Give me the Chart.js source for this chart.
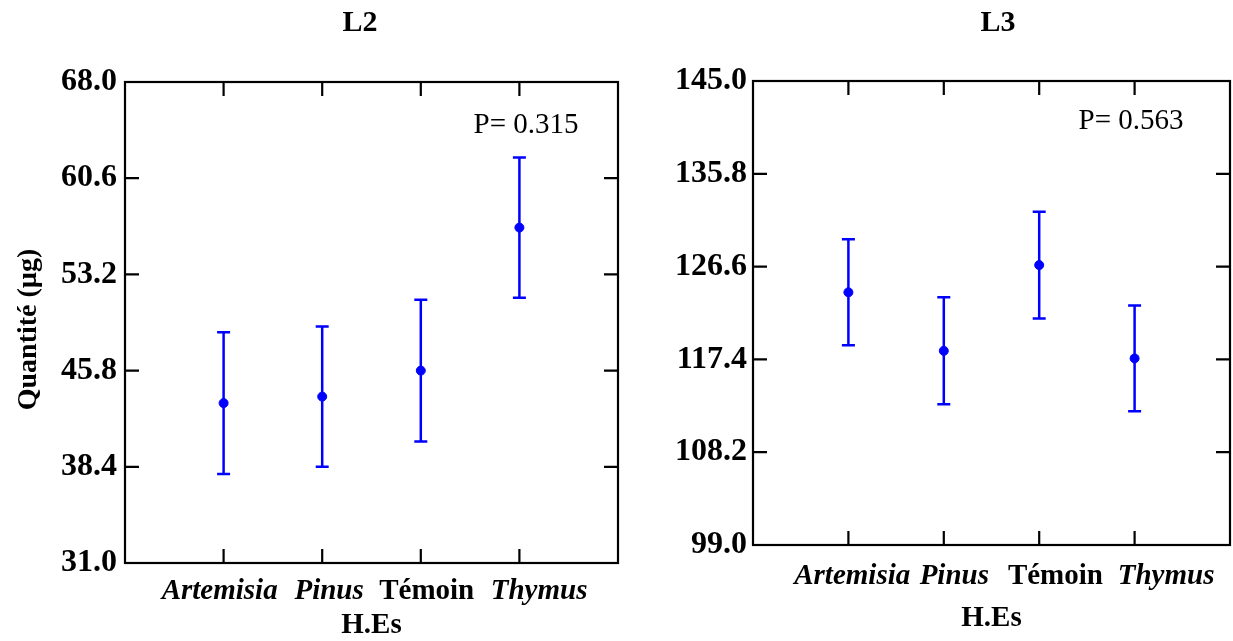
<!DOCTYPE html>
<html lang="fr">
<head>
  <meta charset="UTF-8" />
  <title>L2 / L3</title>
  <script src="https://cdn.jsdelivr.net/npm/chart.js"></script>
  <style>
    body { margin: 0; background: #fff; overflow: hidden; }
    .wrap { position: relative; width: 1233px; height: 641px; overflow: hidden; }
    canvas { position: absolute; top: 0; }
    #chartL2 { left: 0; }
    #chartL3 { left: 640px; }
  </style>
</head>
<body>
  <div class="wrap">
    <canvas id="chartL2" width="640" height="641"></canvas>
    <canvas id="chartL3" width="600" height="641"></canvas>
  </div>

  <script>
    const categories = ['Artemisia', 'Pinus', 'Témoin', 'Thymus'];
    const italicCats = [true, true, false, true];

    const l2Means = [43.3, 43.8, 45.8, 56.8];
    const l2Err = [5.45, 5.4, 5.45, 5.4];
    const l2Ticks = [31.0, 38.4, 45.8, 53.2, 60.6, 68.0];

    const l3Means = [124.05, 118.25, 126.75, 117.5];
    const l3Err = [5.25, 5.3, 5.3, 5.25];
    const l3Ticks = [99.0, 108.2, 117.4, 126.6, 135.8, 145.0];

    const serif = "'Liberation Serif', 'Times New Roman', serif";

    // frame, inward ticks, error bars, titles
    const decorPlugin = {
      id: 'decor',
      afterDatasetsDraw(chart, args, opts) {
        const c = chart.ctx, a = chart.chartArea;
        const xs = chart.scales.x, ys = chart.scales.y;
        c.save();
        c.strokeStyle = '#000';
        c.lineWidth = 2.2;
        c.strokeRect(a.left, a.top, a.right - a.left, a.bottom - a.top);
        c.beginPath();
        ys.ticks.forEach(t => {
          const y = ys.getPixelForValue(t.value);
          c.moveTo(a.left, y); c.lineTo(a.left + 14, y);
          c.moveTo(a.right, y); c.lineTo(a.right - 14, y);
        });
        categories.forEach((_, i) => {
          const x = xs.getPixelForValue(i + 1);
          c.moveTo(x, a.top); c.lineTo(x, a.top + 14);
          c.moveTo(x, a.bottom); c.lineTo(x, a.bottom - 14);
        });
        c.stroke();

        // error bars
        c.strokeStyle = '#0000ff';
        c.lineWidth = 2.5;
        c.beginPath();
        opts.means.forEach((m, i) => {
          const x = xs.getPixelForValue(i + 1);
          const yHi = ys.getPixelForValue(m + opts.err[i]);
          const yLo = ys.getPixelForValue(m - opts.err[i]);
          c.moveTo(x, yHi); c.lineTo(x, yLo);
          c.moveTo(x - 6.5, yHi); c.lineTo(x + 6.5, yHi);
          c.moveTo(x - 6.5, yLo); c.lineTo(x + 6.5, yLo);
        });
        c.stroke();

        c.fillStyle = '#000';
        c.textAlign = 'center';
        c.textBaseline = 'middle';
        c.font = 'bold 30px ' + serif;
        c.fillText(opts.title, opts.titleX, 23);
        c.font = '29px ' + serif;
        c.fillText(opts.pText, opts.pX, opts.pY);
        c.restore();
      }
    };

    function makeChart(id, means, err, ticks, cfg) {
      return new Chart(document.getElementById(id), {
        type: 'scatter',
        data: {
          datasets: [{
            data: means.map((m, i) => ({ x: i + 1, y: m })),
            backgroundColor: '#0000ff',
            borderColor: '#0000ff',
            pointRadius: 4.5,
            pointHoverRadius: 4.5,
            showLine: false
          }]
        },
        options: {
          responsive: false,
          animation: false,
          layout: { padding: { top: cfg.top, right: cfg.right, left: 0, bottom: 0 } },
          plugins: {
            legend: { display: false },
            tooltip: { enabled: false },
            decor: { means: means, err: err, title: cfg.title, titleX: cfg.titleX, pText: cfg.pText, pX: cfg.pX, pY: cfg.pY }
          },
          scales: {
            x: {
              type: 'linear',
              min: 0, max: 5,
              // labels sit slightly spread out from the tick marks, as in the original
              afterBuildTicks: s => { s.ticks = cfg.labelPos.map(v => ({ value: v })); },
              afterFit: s => { s.height = cfg.xHeight; s.paddingLeft = 0; s.paddingRight = 0; },
              grid: { display: false, drawTicks: false },
              border: { display: false },
              ticks: {
                autoSkip: false,
                maxRotation: 0,
                padding: cfg.xPad,
                color: '#000',
                callback: (v, i) => categories[i],
                font: ctx => ({ family: serif, size: 29, weight: 'bold',
                  style: italicCats[ctx.index] ? 'italic' : 'normal' })
              },
              title: {
                display: true,
                text: 'H.Es',
                color: '#000',
                padding: { top: 0, bottom: cfg.xTitleBottom },
                font: { family: serif, size: 29, weight: 'bold' }
              }
            },
            y: {
              min: ticks[0], max: ticks[ticks.length - 1],
              afterBuildTicks: s => { s.ticks = ticks.map(v => ({ value: v })); },
              afterFit: s => { s.width = cfg.yWidth; },
              grid: { display: false, drawTicks: false },
              border: { display: false },
              ticks: {
                padding: cfg.yPad,
                color: '#000',
                callback: v => Number(v).toFixed(1),
                font: { family: serif, size: 32, weight: 'bold' }
              },
              title: {
                display: cfg.yTitle,
                text: 'Quantité (µg)\u00a0\u00a0',
                color: '#000',
                padding: { top: 12, bottom: 0 },
                font: { family: serif, size: 28, weight: 'bold' }
              }
            }
          }
        },
        plugins: [decorPlugin]
      });
    }

    makeChart('chartL2', l2Means, l2Err, l2Ticks, {
      top: 82, right: 22, xHeight: 78, yWidth: 125, yPad: 8, xPad: 11, xTitleBottom: -2,
      labelPos: [0.96, 2.07, 3.06, 4.2],
      yTitle: true, title: 'L2', titleX: 360, pText: 'P= 0.315', pX: 526, pY: 125
    });
    makeChart('chartL3', l3Means, l3Err, l3Ticks, {
      top: 81, right: 10, xHeight: 96, yWidth: 113, yPad: 6, xPad: 14, xTitleBottom: 5,
      labelPos: [1.04, 2.11, 3.17, 4.33],
      yTitle: false, title: 'L3', titleX: 358, pText: 'P= 0.563', pX: 491, pY: 121
    });
  </script>
</body>
</html>
